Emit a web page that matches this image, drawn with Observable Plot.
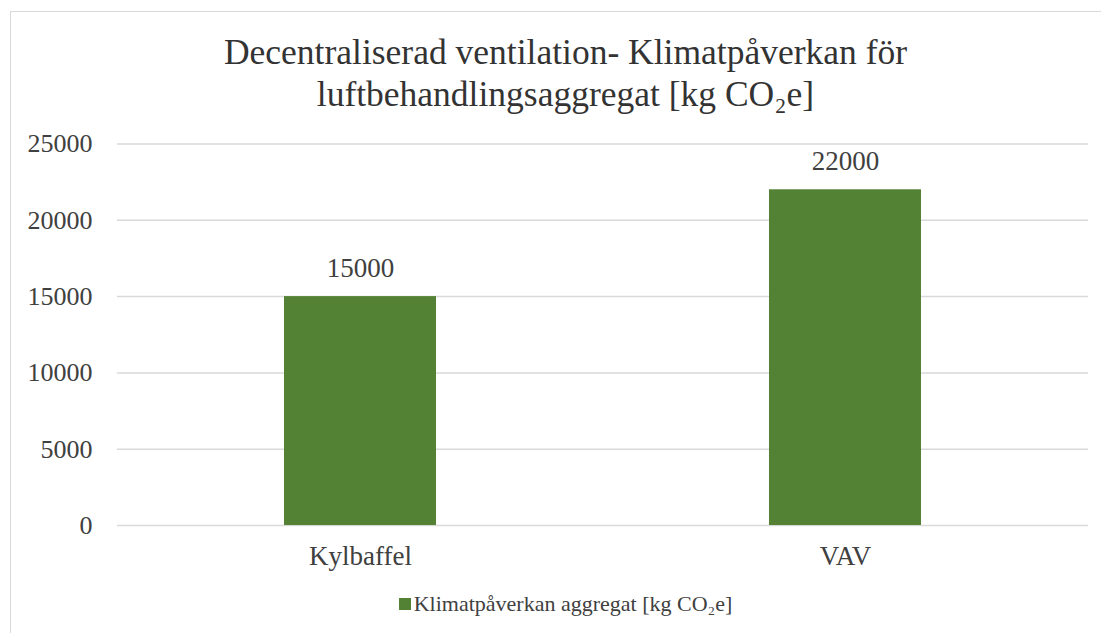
<!DOCTYPE html>
<html><head><meta charset="utf-8">
<script src="https://cdn.jsdelivr.net/npm/d3@7"></script>
<script src="https://cdn.jsdelivr.net/npm/@observablehq/plot@0.6"></script>
<style>
body{margin:0;background:#fff;}
#wrap{position:relative;width:1101px;height:633px;overflow:hidden;font-family:'Liberation Serif';}
#frame{position:absolute;left:10px;top:11px;width:1200px;height:700px;border-left:1.5px solid #d9d9d9;border-top:1.5px solid #d9d9d9;}
#title{position:absolute;left:0;width:1131px;top:31px;text-align:center;font-size:35.5px;line-height:42px;color:#333;white-space:nowrap;}
#chart{position:absolute;left:0;top:120px;}
#legend{position:absolute;left:0;width:1131px;top:591px;text-align:center;font-size:22px;color:#404040;white-space:nowrap;}
#legend .sw{display:inline-block;width:12px;height:12px;background:#548235;margin-right:3px;vertical-align:1px;}
</style></head>
<body><div id="wrap"><div id="frame"></div>
<div id="title">Decentraliserad ventilation- Klimatpåverkan för<br>luftbehandlingsaggregat [kg CO₂e]</div>
<div id="chart"></div>
<div id="legend"><span class="sw"></span>Klimatpåverkan aggregat [kg CO₂e]</div>
</div>
<script>
const categories = ["Kylbaffel", "VAV"];
const values = [15000, 22000];
const yTicks = [0, 5000, 10000, 15000, 20000, 25000];
const data = categories.map((c, i) => ({category: c, value: values[i]}));
const FONT = "'Liberation Serif'";

const chart = Plot.plot({
  width: 1101,
  height: 460,
  marginTop: 23.5,
  marginBottom: 55,
  marginLeft: 117,
  marginRight: 13,
  style: {fontFamily: FONT, fontSize: "26px", color: "#404040", background: "transparent", overflow: "visible"},
  x: {domain: categories, paddingInner: 0.687, paddingOuter: 0.3435, label: null},
  y: {domain: [0, 25000], ticks: yTicks, label: null},
  marks: [
    Plot.ruleY(yTicks, {stroke: "#d9d9d9", strokeWidth: 1.5}),
    Plot.barY(data, {x: "category", y: "value", fill: "#548235"}),
    Plot.text(data, {x: "category", y: "value", text: d => String(d.value), dy: -28, fontSize: 27, fill: "#404040", fontFamily: FONT}),
    Plot.axisX({tickSize: 0, tickPadding: 20, fontSize: 27, label: null, fontFamily: FONT}),
    Plot.axisY({ticks: yTicks, tickSize: 0, tickPadding: 25, fontSize: 26, label: null, tickFormat: d => String(d), fontFamily: FONT})
  ]
});
document.getElementById("chart").appendChild(chart);
</script>
</body></html>
